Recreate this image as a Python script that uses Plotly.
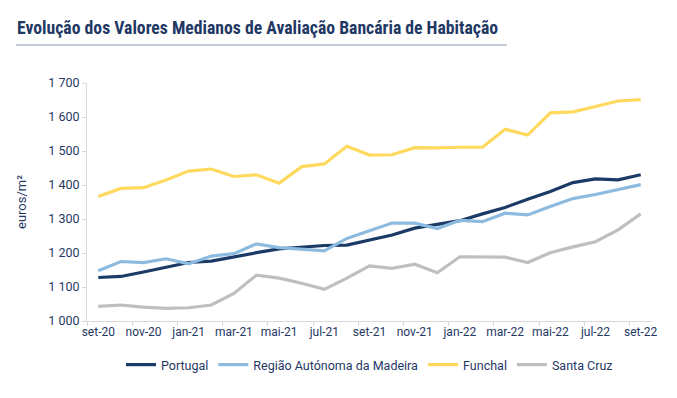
import plotly.graph_objects as go

months = ["set-20", "out-20", "nov-20", "dez-20", "jan-21", "fev-21", "mar-21", "abr-21",
          "mai-21", "jun-21", "jul-21", "ago-21", "set-21", "out-21", "nov-21", "dez-21",
          "jan-22", "fev-22", "mar-22", "abr-22", "mai-22", "jun-22", "jul-22", "ago-22", "set-22"]

portugal = [1128, 1131, 1144, 1158, 1172, 1176, 1189, 1201, 1212, 1217, 1222, 1223, 1237,
            1253, 1273, 1285, 1295, 1315, 1334, 1358, 1381, 1407, 1418, 1415, 1430]
madeira = [1148, 1175, 1172, 1183, 1168, 1191, 1198, 1227, 1216, 1211, 1206, 1243, 1266,
           1288, 1288, 1272, 1296, 1292, 1317, 1312, 1337, 1360, 1372, 1386, 1401]
funchal = [1366, 1390, 1392, 1415, 1441, 1447, 1425, 1430, 1405, 1454, 1462, 1514, 1488,
           1489, 1510, 1509, 1511, 1511, 1564, 1547, 1612, 1615, 1631, 1647, 1651]
santa_cruz = [1043, 1047, 1041, 1037, 1039, 1047, 1081, 1135, 1126, 1111, 1093, 1126, 1162,
              1155, 1167, 1142, 1189, 1188, 1188, 1172, 1201, 1218, 1233, 1268, 1315]

y_ticks = [1000, 1100, 1200, 1300, 1400, 1500, 1600, 1700]
y_ticklabels = ["1 000", "1 100", "1 200", "1 300", "1 400", "1 500", "1 600", "1 700"]

series = [
    ("Portugal", portugal, "#1b3a66"),
    ("Região Autónoma da Madeira", madeira, "#8dbbe0"),
    ("Funchal", funchal, "#ffd95e"),
    ("Santa Cruz", santa_cruz, "#bfbfbf"),
]

TXT = "#1f3864"
x = list(range(len(months)))

# page body has an 8px offset; figure coordinates compensate for it
OFF = 8
L, T = 87 - OFF, 83 - OFF
R, B = 677 - (652 - OFF), 398 - (321 - OFF)
PW, PH = 677 - L - R, 398 - T - B

fig = go.Figure()
for name, vals, col in series:
    fig.add_trace(go.Scatter(x=x, y=vals, mode="lines", name=name,
                             line=dict(color=col, width=3.2)))

fig.update_layout(
    width=677, height=398,
    margin=dict(l=L, r=R, t=T, b=B, autoexpand=False),
    paper_bgcolor="white", plot_bgcolor="white",
    font=dict(family="Roboto, sans-serif", size=12, color=TXT),
    showlegend=True,
    legend=dict(orientation="h", x=0.5, xanchor="center", y=-(365 - 321) / PH,
                yanchor="middle", font=dict(size=12.5, color=TXT), itemwidth=30,
                tracegroupgap=0),
    xaxis=dict(range=[-0.5, len(months) - 0.5], tickmode="array", automargin=False,
               tickvals=x[::2], ticktext=months[::2], ticks="", showgrid=False,
               showline=True, linecolor="#d9d9d9", linewidth=1, zeroline=False,
               tickfont=dict(size=12, color=TXT),
               minor=dict(tick0=-0.5, dtick=2, ticks="outside", ticklen=4,
                          tickcolor="#d9d9d9", showgrid=False)),
    yaxis=dict(range=[1000, 1700], tickmode="array", tickvals=y_ticks, automargin=False,
               ticktext=y_ticklabels, showgrid=False, showline=True,
               linecolor="#d9d9d9", linewidth=1, ticks="outside", ticklen=4,
               tickcolor="#d9d9d9", zeroline=False, tickfont=dict(size=12.5, color=TXT),
               title=dict(text="euros/m²", font=dict(size=13, color=TXT), standoff=18)),
)

fig.add_annotation(text="<b>Evolução dos Valores Medianos de Avaliação Bancária de Habitação</b>",
                   xref="paper", yref="paper", x=(15 - OFF - L) / PW, y=1 + (T - (28 - OFF)) / PH,
                   xanchor="left", yanchor="middle", showarrow=False,
                   font=dict(family="Roboto Condensed, DejaVu Sans Condensed, Liberation Sans Narrow, Roboto",
                             size=17.7, color=TXT))
fig.add_shape(type="line", xref="paper", yref="paper",
              x0=(16 - OFF - L) / PW, x1=(507 - OFF - L) / PW,
              y0=1 + (T - (45 - OFF)) / PH, y1=1 + (T - (45 - OFF)) / PH,
              line=dict(color="#8496b0", width=1))

fig.write_html("out.html")
